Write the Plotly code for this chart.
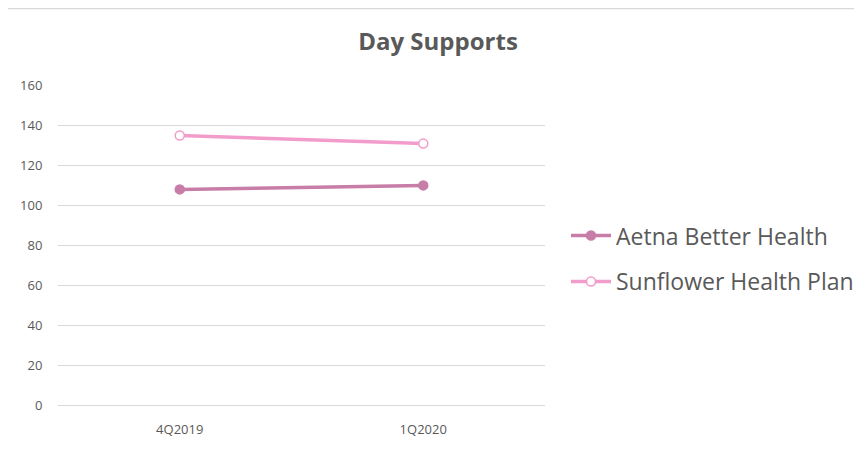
import plotly.graph_objects as go

categories = ["4Q2019", "1Q2020"]
aetna = [108, 110]
sunflower = [135, 131]
y_ticks = [0, 20, 40, 60, 80, 100, 120, 140, 160]

W, H = 854, 444  # page body has an 8px margin
fig = go.Figure()
fig.add_trace(go.Scatter(
    x=categories, y=aetna, name="Aetna Better Health", mode="lines+markers", legendgroup="a",
    line=dict(color="#C77DA7", width=3.5),
    marker=dict(size=9, color="#C77DA7", line=dict(color="#C77DA7", width=1.5))))
fig.add_trace(go.Scatter(
    x=categories, y=sunflower, name="Sunflower Health Plan", mode="lines+markers", legendgroup="b",
    line=dict(color="#F29CCB", width=3.5),
    marker=dict(size=9, color="#FFFFFF", line=dict(color="#F29CCB", width=1.5))))

pl, pt, pr, pb = 50, 77, 317, 45
pw = W - pl - pr
ph = H - pt - pb
fig.update_layout(
    width=W, height=H,
    margin=dict(l=pl, r=pr, t=pt, b=pb, autoexpand=False),
    paper_bgcolor="white", plot_bgcolor="white",
    font=dict(family="Open Sans, sans-serif", color="#595959"),
    title=dict(text="<b>Day Supports</b>", x=430/W, xanchor="center", y=1 - 34/H, yanchor="middle",
               font=dict(size=24, color="#595959", family="Open Sans, sans-serif")),
    xaxis=dict(type="category", range=[-0.5, 1.5], showgrid=False, showline=False, zeroline=False,
               tickfont=dict(size=13, color="#595959"), ticks="outside", ticklen=10,
               tickcolor="rgba(0,0,0,0)"),
    yaxis=dict(range=[-1.0, 160.3], tickvals=y_ticks, showgrid=True, gridcolor="#D9D9D9", gridwidth=1,
               zeroline=False, showline=False, tickfont=dict(size=13, color="#595959"),
               ticks="outside", ticklen=12, tickcolor="rgba(0,0,0,0)"),
    legend=dict(x=(558 - pl) / pw, xanchor="left", y=0.599, yanchor="top", tracegroupgap=13,
                font=dict(size=23, color="#595959", family="Open Sans, sans-serif"),
                itemwidth=40),
    shapes=[dict(type="line", xref="paper", yref="paper", x0=-pl / pw, x1=(W - pl) / pw,
                 y0=1 + pt / ph - 0.001, y1=1 + pt / ph - 0.001, line=dict(color="#D9D9D9", width=2))],
)
fig.write_html("out.html")
